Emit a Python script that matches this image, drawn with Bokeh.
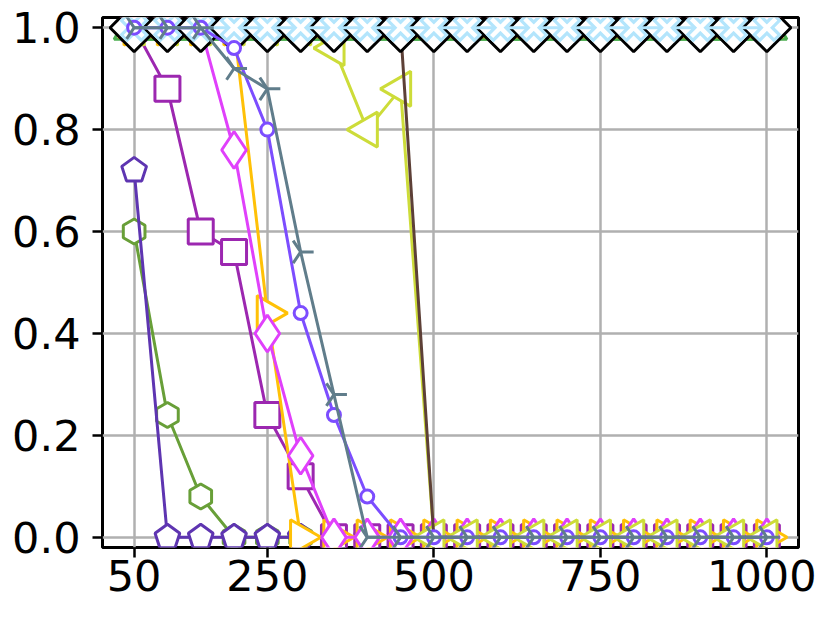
import numpy as np
from bokeh.plotting import figure
from bokeh.models import Range1d, PrintfTickFormatter
from bokeh.embed import file_html
from bokeh.resources import INLINE

x = [50, 100, 150, 200, 250, 300, 350, 400, 450, 500,
     550, 600, 650, 700, 750, 800, 850, 900, 950, 1000]

x_ticks = [50, 250, 500, 750, 1000]
y_ticks = [0.0, 0.2, 0.4, 0.6, 0.8, 1.0]

hexa_vals = [0.60, 0.24, 0.08, 0, 0, 0, 0, 0, 0, 0, 0, 0, 0, 0, 0, 0, 0, 0, 0, 0]
pent_vals = [0.72, 0, 0, 0, 0, 0, 0, 0, 0, 0, 0, 0, 0, 0, 0, 0, 0, 0, 0, 0]
square_vals = [1.0, 0.88, 0.60, 0.56, 0.24, 0.12, 0, 0, 0, 0, 0, 0, 0, 0, 0, 0, 0, 0, 0, 0]
amber_vals = [1.0, 1.0, 1.0, 1.0, 0.44, 0, 0, 0, 0, 0, 0, 0, 0, 0, 0, 0, 0, 0, 0, 0]
diamond_vals = [1.0, 1.0, 1.0, 0.76, 0.40, 0.16, 0, 0, 0, 0, 0, 0, 0, 0, 0, 0, 0, 0, 0, 0]
lime_vals = [1.0, 1.0, 1.0, 1.0, 1.0, 1.0, 0.96, 0.80, 0.88, 0, 0, 0, 0, 0, 0, 0, 0, 0, 0, 0]
brown_vals = [1.0, 1.0, 1.0, 1.0, 1.0, 1.0, 1.0, 1.0, 1.0, 0, 0, 0, 0, 0, 0, 0, 0, 0, 0, 0]
green_vals = [1.0] * 20
orange_vals = [1.0] * 20
pink_vals = [1.0] * 20
blue_vals = [1.0] * 20
black_vals = [1.0] * 20
xmark_vals = [1.0] * 20
circle_vals = [1.0, 1.0, 1.0, 0.96, 0.80, 0.44, 0.24, 0.08, 0, 0, 0, 0, 0, 0, 0, 0, 0, 0, 0, 0]
gray_vals = [1.0, 1.0, 1.0, 0.92, 0.88, 0.56, 0.28, 0, 0, 0, 0, 0, 0, 0, 0, 0, 0, 0, 0, 0]

p = figure(width=816, height=610, output_backend="svg", toolbar_location=None,
           x_range=Range1d(2.5, 1047.5), y_range=Range1d(-0.02, 1.02),
           min_border_left=102, min_border_right=18, min_border_top=17, min_border_bottom=63)

p.outline_line_color = "black"
p.outline_line_width = 3
for ax in (p.xaxis[0], p.yaxis[0]):
    ax.axis_line_color = None
    ax.major_tick_out = 10
    ax.major_tick_in = 0
    ax.major_tick_line_width = 2.5
    ax.major_tick_line_color = "black"
    ax.minor_tick_line_color = None
    ax.major_label_text_font = "DejaVu Sans"
    ax.major_label_text_font_size = "43px"
    ax.major_label_text_color = "black"
p.xaxis.ticker = x_ticks
p.yaxis.ticker = y_ticks
p.yaxis.formatter = PrintfTickFormatter(format="%.1f")
p.xaxis.major_label_standoff = 2
p.yaxis.major_label_standoff = 12
p.grid.grid_line_color = "#b0b0b0"
p.grid.grid_line_width = 2.5

LW = 3


def series(vals, color, marker=None, size=20, angle=0.0, fill="white", mlw=3):
    p.line(x, vals, line_color=color, line_width=LW)
    if marker is not None:
        p.scatter(x, vals, marker=marker, size=size, angle=angle,
                  line_color=color, fill_color=fill, line_width=mlw)


def ngon_series(vals, color, n, radius, angle):
    p.line(x, vals, line_color=color, line_width=LW)
    p.ngon(x=x, y=vals, radius=radius, radius_units="screen", n=n, angle=angle,
           line_color=color, fill_color="white", line_width=3)


ngon_series(hexa_vals, "#689F38", 6, 12.5, 0.0)
ngon_series(pent_vals, "#5E35B1", 5, 13, 0.0)
series(square_vals, "#9C27B0", "square", 25)
series(amber_vals, "#FFC107", "triangle", 35, -np.pi / 2)
series(diamond_vals, "#E040FB", "diamond", 37)
series(lime_vals, "#CDDC39", "triangle", 35, np.pi / 2)
series(brown_vals, "#5D4037", "circle", 8)
series(green_vals, "#4CAF50", "triangle", 40)
series(orange_vals, "#FF9800", "triangle", 32)
series(pink_vals, "#E91E63", "inverted_triangle", 30)
series(blue_vals, "#1E1EFF", "x", 14, fill=None, mlw=2.5)
series(black_vals, "black", "square", 34, np.pi / 4, mlw=3)
# filled X marker: light-blue outline with white face
p.line(x, xmark_vals, line_color="#B3E5FC", line_width=LW)
p.scatter(x, xmark_vals, marker="x", size=31, line_color="#B3E5FC", line_width=11)
p.scatter(x, xmark_vals, marker="x", size=25, line_color="white", line_width=4.5)
series(circle_vals, "#7C4DFF", "circle", 13)
series(gray_vals, "#607D8B", "y", 26, np.pi / 2, fill=None, mlw=3)

open("out.html", "w").write(file_html(p, INLINE))
